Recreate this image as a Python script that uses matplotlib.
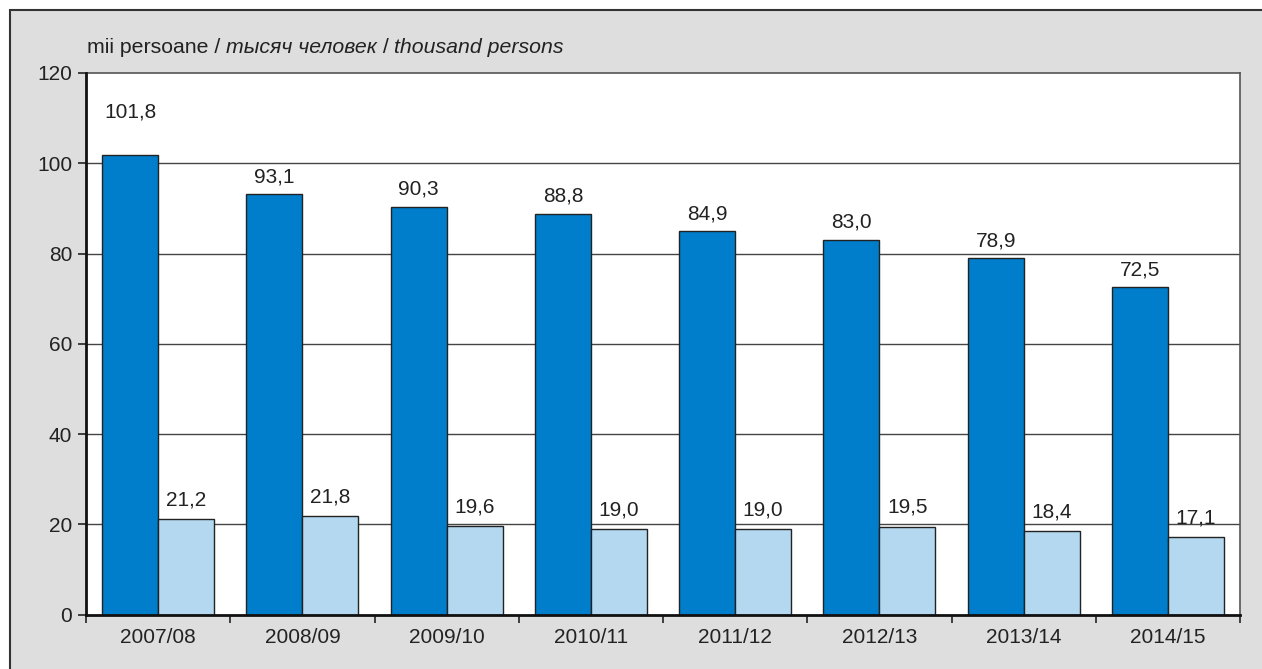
import matplotlib.pyplot as plt
import numpy as np
from matplotlib.patches import Rectangle
from matplotlib.offsetbox import TextArea, HPacker, AnchoredOffsetbox

plt.rcParams['font.family'] = ['Liberation Sans', 'DejaVu Sans']

years = ['2007/08', '2008/09', '2009/10', '2010/11', '2011/12', '2012/13', '2013/14', '2014/15']
series_dark = [101.8, 93.1, 90.3, 88.8, 84.9, 83.0, 78.9, 72.5]
series_light = [21.2, 21.8, 19.6, 19.0, 19.0, 19.5, 18.4, 17.1]
yticks = [0, 20, 40, 60, 80, 100, 120]

dark_color = '#007dcb'
light_color = '#b3d8f0'
fs = 15

fig = plt.figure(figsize=(12.62, 6.69), dpi=100)
fig.patch.set_facecolor('white')

# grey frame behind everything
W, H = 1262, 669
fig.patches.append(Rectangle((10 / W, -0.01), 1.01, 1 - 10 / H + 0.01,
                             transform=fig.transFigure, facecolor='#dedede',
                             edgecolor='#333333', linewidth=1.5, zorder=-10))

ax = fig.add_axes([86 / W, (H - 614.5) / H, (1240 - 86) / W, (614.5 - 73) / H])
ax.set_zorder(1)
ax.set_facecolor('white')

x = np.arange(len(years)) + 0.5
w = 0.388
b1 = ax.bar(x - w / 2, series_dark, w, color=dark_color, edgecolor='#222222', linewidth=1, zorder=3)
b2 = ax.bar(x + w / 2, series_light, w, color=light_color, edgecolor='#222222', linewidth=1, zorder=3)

for i, (r, v) in enumerate(zip(b1, series_dark)):
    off = 24 if i == 0 else 6
    ax.annotate(f'{v:.1f}'.replace('.', ','), (r.get_x() + r.get_width() / 2, v),
                xytext=(0, off), textcoords='offset points', ha='center', va='bottom',
                fontsize=fs, color='#222222')
for r, v in zip(b2, series_light):
    ax.annotate(f'{v:.1f}'.replace('.', ','), (r.get_x() + r.get_width() / 2, v),
                xytext=(0, 7), textcoords='offset points', ha='center', va='bottom',
                fontsize=fs, color='#222222')

ax.set_xlim(0, len(years))
ax.set_ylim(0, 120)
ax.set_yticks(yticks)
ax.set_yticklabels([str(t) for t in yticks], fontsize=fs, color='#222222')
ax.set_xticks(np.arange(len(years) + 1))
ax.set_xticklabels([])
ax.set_xticks(x, minor=True)
ax.set_xticklabels(years, minor=True, fontsize=fs, color='#222222')
ax.tick_params(axis='x', which='minor', length=0, pad=10)
ax.tick_params(axis='x', which='major', length=6, width=1.2, direction='out', color='#222222')
ax.tick_params(axis='y', length=6, width=1.2, direction='out', color='#222222', pad=4)

for y in yticks[1:-1]:
    ax.axhline(y, color='#444444', linewidth=1, zorder=1)

for s in ['top', 'right']:
    ax.spines[s].set_color('#555555')
    ax.spines[s].set_linewidth(1.2)
for s in ['left', 'bottom']:
    ax.spines[s].set_color('#111111')
    ax.spines[s].set_linewidth(2)
    ax.spines[s].set_zorder(5)

# unit caption with mixed styles
tp = dict(fontsize=15.3, color='#222222')
parts = [
    TextArea('mii persoane / ', textprops=tp),
    TextArea('тысяч человек', textprops=dict(tp, style='italic')),
    TextArea(' / ', textprops=tp),
    TextArea('thousand persons', textprops=dict(tp, style='italic')),
]
box = HPacker(children=parts, align='baseline', pad=0, sep=0)
anch = AnchoredOffsetbox(loc='lower left', child=box, pad=0, borderpad=0, frameon=False,
                         bbox_to_anchor=(87 / W, 1 - 57 / H), bbox_transform=fig.transFigure)
fig.add_artist(anch)

fig.savefig('out.png', dpi=100)
